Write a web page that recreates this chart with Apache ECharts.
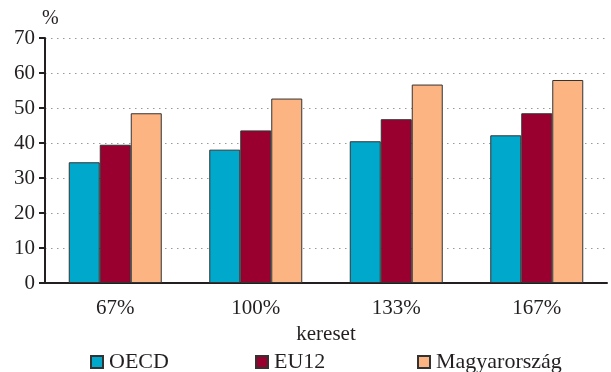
<!DOCTYPE html>
<html>
<head>
<meta charset="utf-8">
<script src="https://cdn.jsdelivr.net/npm/echarts@6/dist/echarts.min.js"></script>
<style>
  html, body { margin: 0; padding: 0; background: #fff; }
  #chart { width: 611px; height: 372px; }
</style>
</head>
<body>
<div id="chart"></div>
<script>
// adatok
var categories = ["67%", "100%", "133%", "167%"];
var oecd = [34.5, 38.1, 40.5, 42.2];
var eu12 = [39.5, 43.6, 46.8, 48.5];
var magyar = [48.5, 52.7, 56.7, 58.0];
var seriesNames = ["OECD", "EU12", "Magyarország"];

var font = "Liberation Serif";
var ink = "#231f20";
var colors = ["#00a9cb", "#990030", "#fbb482"];

function bar(name, data, color) {
  return {
    name: name,
    type: "bar",
    data: data,
    barWidth: 31,
    barGap: "0%",
    itemStyle: { color: color, borderColor: "#333", borderWidth: 1 }
  };
}

function legendAt(name, left) {
  return {
    data: [name],
    left: left,
    top: 351,
    icon: "rect",
    itemWidth: 12,
    itemHeight: 12,
    itemGap: 0,
    padding: 0,
    textStyle: { fontFamily: font, fontSize: 22, color: ink, padding: [0, 0, 0, 1] }
  };
}

var chart = echarts.init(document.getElementById("chart"));
chart.setOption({
  animation: false,
  color: colors,
  grid: { left: 45, right: 4, top: 38, bottom: 89 },
  legend: [legendAt("OECD", 90), legendAt("EU12", 255), legendAt("Magyarország", 417)],
  xAxis: {
    type: "category",
    data: categories,
    name: "kereset",
    nameLocation: "middle",
    nameGap: 40,
    nameTextStyle: { fontFamily: font, fontSize: 21, color: ink },
    axisLine: { lineStyle: { color: ink, width: 2 } },
    axisTick: { length: 7, lineStyle: { color: ink, width: 2 } },
    axisLabel: { fontFamily: font, fontSize: 21, color: ink, margin: 15 }
  },
  yAxis: {
    type: "value",
    min: 0,
    max: 70,
    interval: 10,
    name: "%",
    nameLocation: "end",
    nameGap: 9,
    nameTextStyle: { fontFamily: font, fontSize: 20, color: ink, align: "left", padding: [0, 0, 0, -3] },
    axisLine: { show: true, lineStyle: { color: ink, width: 2 } },
    axisTick: { show: true, length: 6, lineStyle: { color: ink, width: 2 } },
    axisLabel: { fontFamily: font, fontSize: 21, color: ink, margin: 10 },
    splitLine: { lineStyle: { color: "#999", width: 1, type: [1.5, 4.5] } }
  },
  series: [
    bar(seriesNames[0], oecd, colors[0]),
    bar(seriesNames[1], eu12, colors[1]),
    bar(seriesNames[2], magyar, colors[2])
  ]
});
</script>
</body>
</html>
